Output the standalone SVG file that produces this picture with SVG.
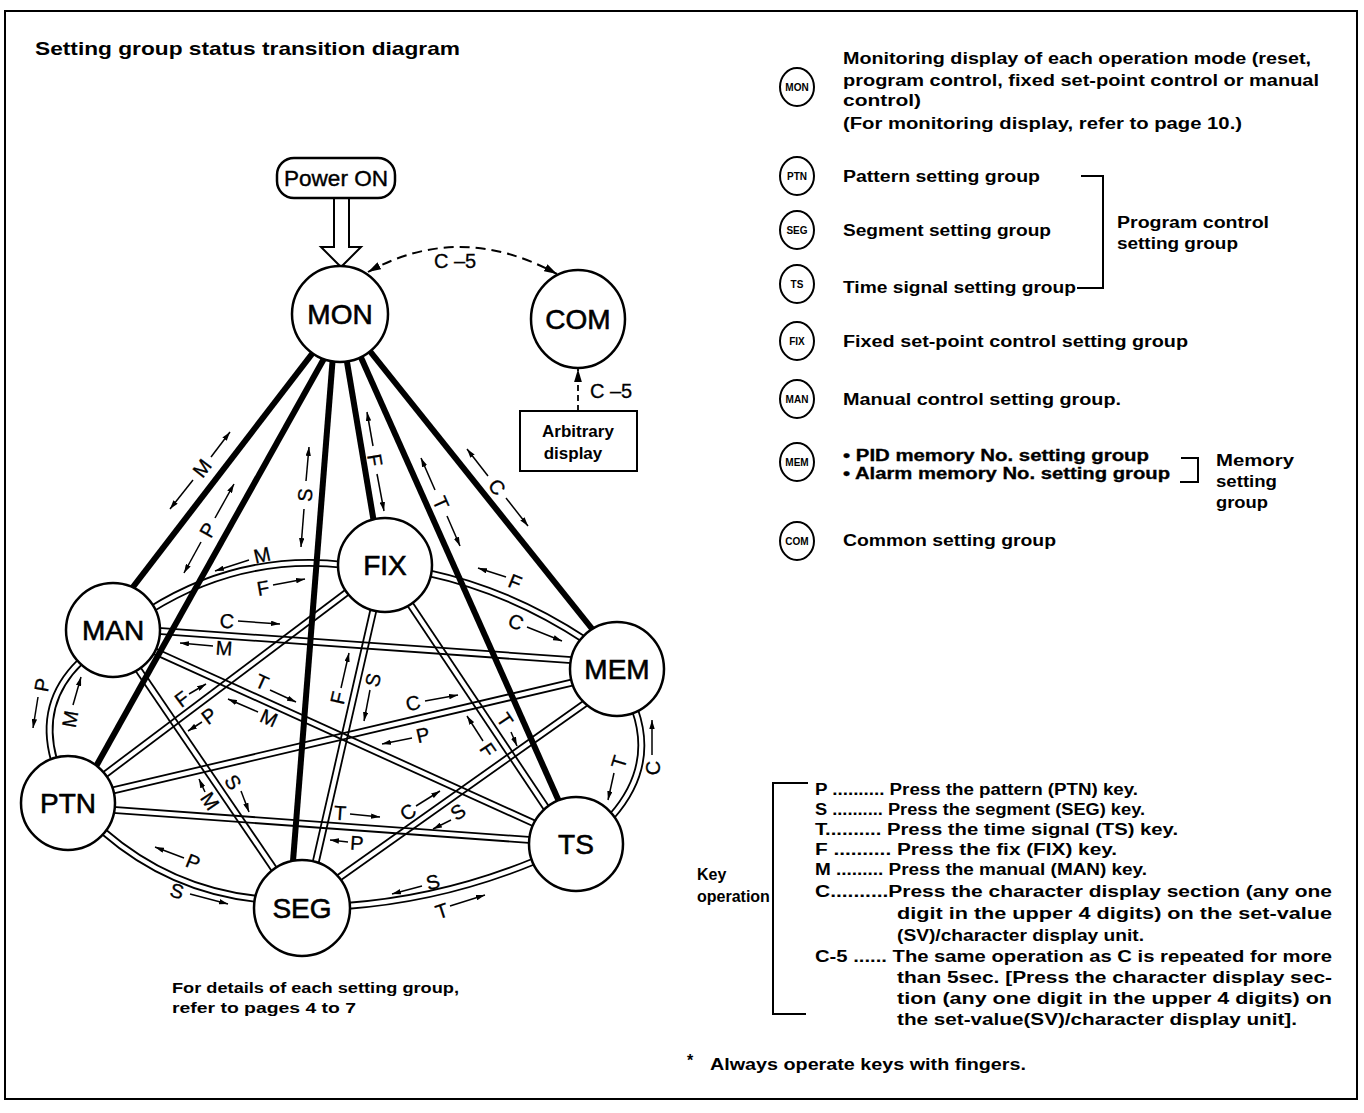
<svg xmlns="http://www.w3.org/2000/svg" xmlns:xlink="http://www.w3.org/1999/xlink" width="1364" height="1113" viewBox="0 0 1364 1113">
<style>
  text { font-family: "Liberation Sans", Arial, sans-serif; fill: #000; }
  .node { fill: #fff; stroke: #000; stroke-width: 2.5; }
  .nl { font-size: 28px; text-anchor: middle; stroke: #000; stroke-width: 0.6; }
  .el { font-size: 20px; text-anchor: middle; stroke: #000; stroke-width: 0.3; }
  .sa { stroke: #000; stroke-width: 1.5; fill: none; marker-end: url(#ah); }
  .spoke { stroke: #000; stroke-width: 6; fill: none; }
  .dl { stroke: #000; stroke-width: 1.8; fill: none; }
  .arcO { stroke: #000; stroke-width: 7.8; fill: none; }
  .arcI { stroke: #fff; stroke-width: 4.2; fill: none; }
  .leg { font-size: 16px; font-weight: bold; }
  .key { font-size: 16px; font-weight: bold; }
  .lc { fill: #fff; stroke: #000; stroke-width: 2; }
  .lct { font-size: 10px; font-weight: bold; text-anchor: middle; }
  .br { stroke: #000; stroke-width: 2; fill: none; }
</style>
<defs>
  <marker id="ah" viewBox="0 0 10 6" refX="10" refY="3" markerWidth="9" markerHeight="5.4" markerUnits="userSpaceOnUse" orient="auto">
    <path d="M0,0 L10,3 L0,6 z" fill="#000"/>
  </marker>
  <marker id="ahd" viewBox="0 0 10 6" refX="10" refY="3" markerWidth="13" markerHeight="8" markerUnits="userSpaceOnUse" orient="auto-start-reverse">
    <path d="M0,0 L10,3 L0,6 z" fill="#000"/>
  </marker>
  <path id="arc1" d="M150,610 Q241,553 345,565"/>
  <path id="arc2" d="M428,573 Q511,591 585,640"/>
  <path id="arc3" d="M80,662 Q38,703 54,760"/>
  <path id="arc4" d="M635,710 Q655,767 612,816"/>
  <path id="arc5" d="M104,832 Q171,890 258,899"/>
  <path id="arc6" d="M346,906 Q443,899 535,861"/>
</defs>
<rect x="0" y="0" width="1364" height="1113" fill="#fff"/>
<g id="frame">
  <rect x="5" y="11" width="1352" height="1088" fill="none" stroke="#000" stroke-width="2"/>
</g>
<g id="title">
  <text x="35" y="55" font-size="19" font-weight="bold" textLength="425" lengthAdjust="spacingAndGlyphs">Setting group status transition diagram</text>
</g>

<g id="connectors">
  <use xlink:href="#arc1" class="arcO"/><use xlink:href="#arc1" class="arcI"/>
  <use xlink:href="#arc2" class="arcO"/><use xlink:href="#arc2" class="arcI"/>
  <use xlink:href="#arc3" class="arcO"/><use xlink:href="#arc3" class="arcI"/>
  <use xlink:href="#arc4" class="arcO"/><use xlink:href="#arc4" class="arcI"/>
  <use xlink:href="#arc5" class="arcO"/><use xlink:href="#arc5" class="arcI"/>
  <use xlink:href="#arc6" class="arcO"/><use xlink:href="#arc6" class="arcI"/>
  <g id="man-mem"><line class="dl" x1="143.8" y1="632.9" x2="585.8" y2="664.1"/><line class="dl" x1="144.3" y1="626.9" x2="586.2" y2="658.1"/></g>
  <g id="man-ts"><line class="dl" x1="147.2" y1="651.1" x2="544.3" y2="831.3"/><line class="dl" x1="149.7" y1="645.7" x2="546.8" y2="825.9"/></g>
  <g id="man-seg"><line class="dl" x1="128.5" y1="660.5" x2="278.5" y2="880.9"/><line class="dl" x1="133.5" y1="657.1" x2="283.5" y2="877.5"/></g>
  <g id="fix-ptn"><line class="dl" x1="357.0" y1="581.0" x2="92.4" y2="780.2"/><line class="dl" x1="360.6" y1="585.8" x2="96.0" y2="785.0"/></g>
  <g id="fix-seg"><line class="dl" x1="373.6" y1="595.7" x2="309.5" y2="875.9"/><line class="dl" x1="379.5" y1="597.1" x2="315.4" y2="877.3"/></g>
  <g id="fix-ts"><line class="dl" x1="400.6" y1="595.4" x2="549.4" y2="818.0"/><line class="dl" x1="405.6" y1="592.0" x2="554.4" y2="814.6"/></g>
  <g id="mem-ptn"><line class="dl" x1="584.9" y1="676.4" x2="98.7" y2="790.7"/><line class="dl" x1="586.3" y1="682.3" x2="100.1" y2="796.6"/></g>
  <g id="mem-seg"><line class="dl" x1="591.3" y1="695.3" x2="325.2" y2="883.8"/><line class="dl" x1="594.8" y1="700.2" x2="328.7" y2="888.7"/></g>
  <g id="ptn-ts"><line class="dl" x1="98.8" y1="811.8" x2="545.7" y2="844.1"/><line class="dl" x1="99.2" y1="805.9" x2="546.2" y2="838.2"/></g>
  <line class="spoke" x1="322.7" y1="340" x2="123" y2="600"/>
  <line class="spoke" x1="334.4" y1="340" x2="91.2" y2="775"/>
  <line class="spoke" x1="334.2" y1="340" x2="291.9" y2="875"/>
  <line class="spoke" x1="343.3" y1="340" x2="375.2" y2="530"/>
  <line class="spoke" x1="353.2" y1="340" x2="562.8" y2="810"/>
  <line class="spoke" x1="361" y1="340" x2="601" y2="640"/>
  <polygon points="334,198 349,198 349,247 361,247 341,267 321,247 334,247" fill="#fff" stroke="#000" stroke-width="2"/>
  <path d="M368,272 Q460,221 557,274" fill="none" stroke="#000" stroke-width="2" stroke-dasharray="10,6" marker-start="url(#ahd)" marker-end="url(#ahd)"/>
  <line x1="578" y1="411" x2="578" y2="369" stroke="#000" stroke-width="1.8" stroke-dasharray="6,4" marker-end="url(#ahd)"/>
</g>

<g id="node-power">
  <rect x="277" y="158" width="118" height="40" rx="17" ry="17" class="node" stroke-width="2"/>
  <text x="336" y="186" font-size="22" text-anchor="middle" stroke="#000" stroke-width="0.4" textLength="104" lengthAdjust="spacingAndGlyphs">Power ON</text>
</g>
<g id="node-mon"><circle cx="340" cy="314" r="48" class="node"/><text x="340" y="324" class="nl">MON</text></g>
<g id="node-com"><ellipse cx="578" cy="319" rx="47" ry="49" class="node"/><text x="578" y="329" class="nl">COM</text></g>
<g id="node-arb">
  <rect x="520" y="411" width="117" height="60" fill="#fff" stroke="#000" stroke-width="2"/>
  <text x="578" y="437" font-size="17" font-weight="bold" text-anchor="middle">Arbitrary</text>
  <text x="573" y="459" font-size="17" font-weight="bold" text-anchor="middle">display</text>
</g>
<g id="node-fix"><circle cx="385" cy="565" r="47" class="node"/><text x="385" y="575" class="nl">FIX</text></g>
<g id="node-man"><circle cx="113" cy="630" r="47" class="node"/><text x="113" y="640" class="nl">MAN</text></g>
<g id="node-mem"><circle cx="617" cy="669" r="47" class="node"/><text x="617" y="679" class="nl">MEM</text></g>
<g id="node-ptn"><circle cx="68" cy="803" r="47" class="node"/><text x="68" y="813" class="nl">PTN</text></g>
<g id="node-ts"><circle cx="576" cy="844" r="47" class="node"/><text x="576" y="854" class="nl">TS</text></g>
<g id="node-seg"><circle cx="302" cy="908" r="48" class="node"/><text x="302" y="918" class="nl">SEG</text></g>

<g id="edge-labels">
  <text x="455" y="268" class="el">C –5</text>
  <text x="611" y="398" class="el">C –5</text>
  <text x="202" y="475" class="el" transform="rotate(-52.5 202 468)">M</text>
  <line class="sa" x1="211" y1="457" x2="230" y2="432"/><line class="sa" x1="193" y1="480" x2="170" y2="509"/>
  <text x="208" y="537" class="el" transform="rotate(-60.8 208 530)">P</text>
  <line class="sa" x1="215" y1="518" x2="234" y2="484"/><line class="sa" x1="201" y1="542" x2="184" y2="573"/>
  <text x="305" y="502" class="el" transform="rotate(-85.5 305 495)">S</text>
  <line class="sa" x1="306" y1="481" x2="309" y2="447"/><line class="sa" x1="304" y1="509" x2="301" y2="547"/>
  <text x="375" y="467" class="el" transform="rotate(80.5 375 460)">F</text>
  <line class="sa" x1="373" y1="446" x2="367" y2="412"/><line class="sa" x1="377" y1="474" x2="384" y2="511"/>
  <text x="441" y="510" class="el" transform="rotate(66 441 503)">T</text>
  <line class="sa" x1="435" y1="490" x2="421" y2="458"/><line class="sa" x1="447" y1="516" x2="460" y2="546"/>
  <text x="497" y="494" class="el" transform="rotate(51.4 497 487)">C</text>
  <line class="sa" x1="488" y1="476" x2="467" y2="449"/><line class="sa" x1="506" y1="498" x2="528" y2="526"/>
  <text x="262" y="562" class="el" transform="rotate(-13 262 555)">M</text>
  <line class="sa" x1="249" y1="560" x2="215" y2="571"/>
  <text x="263" y="595" class="el" transform="rotate(-10 263 588)">F</text>
  <line class="sa" x1="273" y1="585" x2="305" y2="579"/>
  <text x="515" y="589" class="el" transform="rotate(22 515 582)">F</text>
  <line class="sa" x1="506" y1="577" x2="478" y2="568"/>
  <text x="516" y="629" class="el" transform="rotate(23 516 622)">C</text>
  <line class="sa" x1="527" y1="627" x2="562" y2="641"/>
  <text x="42" y="692" class="el" transform="rotate(-80 42 685)">P</text>
  <line class="sa" x1="38" y1="697" x2="33" y2="728"/>
  <text x="70" y="726" class="el" transform="rotate(-80 70 719)">M</text>
  <line class="sa" x1="73" y1="705" x2="81" y2="677"/>
  <text x="619" y="769" class="el" transform="rotate(-73 619 762)">T</text>
  <line class="sa" x1="614" y1="773" x2="608" y2="800"/>
  <text x="653" y="775" class="el" transform="rotate(-90 653 768)">C</text>
  <line class="sa" x1="652" y1="755" x2="652" y2="720"/>
  <text x="193" y="869" class="el" transform="rotate(22 193 862)">P</text>
  <line class="sa" x1="184" y1="858" x2="155" y2="847"/>
  <text x="177" y="898" class="el" transform="rotate(15 177 891)">S</text>
  <line class="sa" x1="190" y1="894" x2="228" y2="904"/>
  <text x="433" y="889" class="el" transform="rotate(-15 433 882)">S</text>
  <line class="sa" x1="422" y1="886" x2="392" y2="894"/>
  <text x="442" y="918" class="el" transform="rotate(-18 442 911)">T</text>
  <line class="sa" x1="450" y1="906" x2="485" y2="895"/>
  <text x="227" y="628" class="el" transform="rotate(4 227 621)">C</text>
  <line class="sa" x1="238" y1="621" x2="280" y2="624"/>
  <text x="224" y="655" class="el" transform="rotate(4 224 648)">M</text>
  <line class="sa" x1="213" y1="646" x2="180" y2="643"/>
  <text x="262" y="689" class="el" transform="rotate(24 262 682)">T</text>
  <line class="sa" x1="270" y1="690" x2="296" y2="702"/>
  <text x="269" y="725" class="el" transform="rotate(24 269 718)">M</text>
  <line class="sa" x1="258" y1="712" x2="228" y2="699"/>
  <text x="233" y="789" class="el" transform="rotate(56 233 782)">S</text>
  <line class="sa" x1="241" y1="791" x2="249" y2="812"/>
  <text x="210" y="808" class="el" transform="rotate(56 210 801)">M</text>
  <line class="sa" x1="205" y1="792" x2="199" y2="779"/>
  <text x="182" y="706" class="el" transform="rotate(-37 182 699)">F</text>
  <line class="sa" x1="189" y1="694" x2="206" y2="684"/>
  <text x="209" y="723" class="el" transform="rotate(-37 209 716)">P</text>
  <line class="sa" x1="202" y1="722" x2="188" y2="731"/>
  <text x="338" y="705" class="el" transform="rotate(-77 338 698)">F</text>
  <line class="sa" x1="341" y1="688" x2="349" y2="653"/>
  <text x="373" y="687" class="el" transform="rotate(-77 373 680)">S</text>
  <line class="sa" x1="370" y1="690" x2="364" y2="721"/>
  <text x="505" y="727" class="el" transform="rotate(56 505 720)">T</text>
  <line class="sa" x1="511" y1="732" x2="517" y2="746"/>
  <text x="488" y="757" class="el" transform="rotate(56 488 750)">F</text>
  <line class="sa" x1="483" y1="741" x2="467" y2="716"/>
  <text x="413" y="710" class="el" transform="rotate(-13 413 703)">C</text>
  <line class="sa" x1="425" y1="701" x2="458" y2="695"/>
  <text x="423" y="742" class="el" transform="rotate(-13 423 735)">P</text>
  <line class="sa" x1="412" y1="738" x2="382" y2="744"/>
  <text x="408" y="819" class="el" transform="rotate(-35 408 812)">C</text>
  <line class="sa" x1="416" y1="806" x2="440" y2="791"/>
  <text x="458" y="819" class="el" transform="rotate(-35 458 812)">S</text>
  <line class="sa" x1="451" y1="820" x2="433" y2="829"/>
  <text x="340" y="820" class="el" transform="rotate(4 340 813)">T</text>
  <line class="sa" x1="350" y1="814" x2="380" y2="817"/>
  <text x="357" y="850" class="el" transform="rotate(4 357 843)">P</text>
  <line class="sa" x1="348" y1="842" x2="330" y2="840"/>
</g>

<g id="legend-nodes">
  <g id="leg-mon"><ellipse cx="797" cy="87" rx="17" ry="19" class="lc"/><text x="797" y="91" class="lct">MON</text>
    <text x="843" y="64" class="leg" textLength="468" lengthAdjust="spacingAndGlyphs">Monitoring display of each operation mode (reset,</text>
    <text x="843" y="86" class="leg" textLength="476" lengthAdjust="spacingAndGlyphs">program control, fixed set-point control or manual</text>
    <text x="843" y="106" class="leg" textLength="78" lengthAdjust="spacingAndGlyphs">control)</text>
    <text x="843" y="129" class="leg" textLength="399" lengthAdjust="spacingAndGlyphs">(For monitoring display, refer to page 10.)</text>
  </g>
  <g id="leg-ptn"><ellipse cx="797" cy="176" rx="17" ry="19" class="lc"/><text x="797" y="180" class="lct">PTN</text>
    <text x="843" y="182" class="leg" textLength="197" lengthAdjust="spacingAndGlyphs">Pattern setting group</text></g>
  <g id="leg-seg"><ellipse cx="797" cy="230" rx="17" ry="19" class="lc"/><text x="797" y="234" class="lct">SEG</text>
    <text x="843" y="236" class="leg" textLength="208" lengthAdjust="spacingAndGlyphs">Segment setting group</text></g>
  <g id="leg-ts"><ellipse cx="797" cy="284" rx="17" ry="19" class="lc"/><text x="797" y="288" class="lct">TS</text>
    <text x="843" y="293" class="leg" textLength="233" lengthAdjust="spacingAndGlyphs">Time signal setting group</text></g>
  <g id="leg-prog">
    <polyline class="br" points="1081,176 1103,176 1103,288 1077,288"/>
    <text x="1117" y="228" class="leg" textLength="152" lengthAdjust="spacingAndGlyphs">Program control</text>
    <text x="1117" y="249" class="leg" textLength="121" lengthAdjust="spacingAndGlyphs">setting group</text>
  </g>
  <g id="leg-fix"><ellipse cx="797" cy="341" rx="17" ry="19" class="lc"/><text x="797" y="345" class="lct">FIX</text>
    <text x="843" y="347" class="leg" textLength="345" lengthAdjust="spacingAndGlyphs">Fixed set-point control setting group</text></g>
  <g id="leg-man"><ellipse cx="797" cy="399" rx="17" ry="19" class="lc"/><text x="797" y="403" class="lct">MAN</text>
    <text x="843" y="405" class="leg" textLength="278" lengthAdjust="spacingAndGlyphs">Manual control setting group.</text></g>
  <g id="leg-mem"><ellipse cx="797" cy="462" rx="17" ry="19" class="lc"/><text x="797" y="466" class="lct">MEM</text>
    <text x="843" y="461" class="leg" font-weight="normal" stroke="#000" stroke-width="0.3" textLength="306" lengthAdjust="spacingAndGlyphs">• PID memory No. setting group</text>
    <text x="843" y="479" class="leg" font-weight="normal" stroke="#000" stroke-width="0.3" textLength="327" lengthAdjust="spacingAndGlyphs">• Alarm memory No. setting group</text>
    <polyline class="br" points="1181,458 1198,458 1198,482 1180,482"/>
    <text x="1216" y="466" class="leg" textLength="78" lengthAdjust="spacingAndGlyphs">Memory</text>
    <text x="1216" y="487" class="leg" textLength="61" lengthAdjust="spacingAndGlyphs">setting</text>
    <text x="1216" y="508" class="leg" textLength="52" lengthAdjust="spacingAndGlyphs">group</text>
  </g>
  <g id="leg-com"><ellipse cx="797" cy="541" rx="17" ry="19" class="lc"/><text x="797" y="545" class="lct">COM</text>
    <text x="843" y="546" class="leg" textLength="213" lengthAdjust="spacingAndGlyphs">Common setting group</text></g>
</g>

<g id="key-operation">
  <polyline class="br" points="808,783 773,783 773,1014 806,1014"/>
  <text x="697" y="880" class="key">Key</text>
  <text x="697" y="902" class="key">operation</text>
  <text x="815" y="795" class="key" textLength="323" lengthAdjust="spacingAndGlyphs">P .......... Press the pattern (PTN) key.</text>
  <text x="815" y="815" class="key" textLength="330" lengthAdjust="spacingAndGlyphs">S .......... Press the segment (SEG) key.</text>
  <text x="815" y="835" class="key" textLength="363" lengthAdjust="spacingAndGlyphs">T.......... Press the time signal (TS) key.</text>
  <text x="815" y="855" class="key" textLength="302" lengthAdjust="spacingAndGlyphs">F .......... Press the fix (FIX) key.</text>
  <text x="815" y="875" class="key" textLength="332" lengthAdjust="spacingAndGlyphs">M ......... Press the manual (MAN) key.</text>
  <text x="815" y="897" class="key" textLength="517" lengthAdjust="spacingAndGlyphs">C..........Press the character display section (any one</text>
  <text x="897" y="919" class="key" textLength="435" lengthAdjust="spacingAndGlyphs">digit in the upper 4 digits) on the set-value</text>
  <text x="897" y="941" class="key" textLength="247" lengthAdjust="spacingAndGlyphs">(SV)/character display unit.</text>
  <text x="815" y="962" class="key" textLength="517" lengthAdjust="spacingAndGlyphs">C-5 ...... The same operation as C is repeated for more</text>
  <text x="897" y="983" class="key" textLength="435" lengthAdjust="spacingAndGlyphs">than 5sec. [Press the character display sec-</text>
  <text x="897" y="1004" class="key" textLength="435" lengthAdjust="spacingAndGlyphs">tion (any one digit in the upper 4 digits) on</text>
  <text x="897" y="1025" class="key" textLength="400" lengthAdjust="spacingAndGlyphs">the set-value(SV)/character display unit].</text>
</g>

<g id="notes">
  <text x="172" y="993" font-size="14" font-weight="bold" textLength="287" lengthAdjust="spacingAndGlyphs">For details of each setting group,</text>
  <text x="172" y="1013" font-size="14" font-weight="bold" textLength="184" lengthAdjust="spacingAndGlyphs">refer to pages 4 to 7</text>
  <text x="687" y="1066" font-size="16" font-weight="bold">*</text>
  <text x="710" y="1070" font-size="16" font-weight="bold" textLength="316" lengthAdjust="spacingAndGlyphs">Always operate keys with fingers.</text>
</g>
</svg>
